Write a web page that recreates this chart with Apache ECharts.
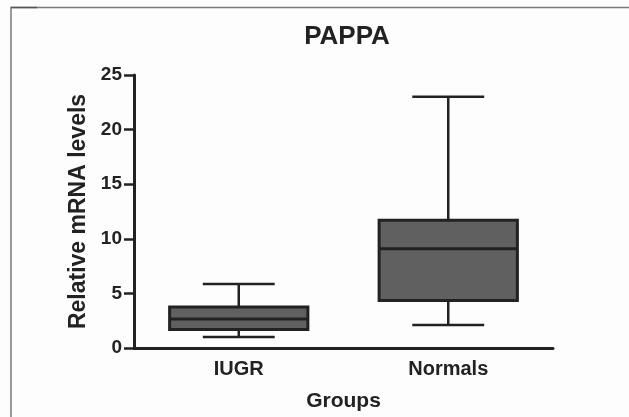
<!DOCTYPE html>
<html>
<head>
<meta charset="utf-8">
<script src="https://cdn.jsdelivr.net/npm/echarts@6/dist/echarts.min.js"></script>
<style>
  html, body { margin: 0; padding: 0; background: #fdfdfd; }
  #chart { width: 629px; height: 417px; }
</style>
</head>
<body>
<div id="chart"></div>
<script>
// Groups and their box-and-whisker summaries (min, Q1, median, Q3, max)
const groups = ['IUGR', 'Normals'];
const whiskerLow = [1.0, 2.1];
const quartile1 = [1.7, 4.35];
const medians = [2.65, 9.1];
const quartile3 = [3.75, 11.7];
const whiskerHigh = [5.85, 23.0];
const yTicks = [0, 5, 10, 15, 20, 25];

const seriesData = groups.map((g, i) => [i, whiskerLow[i], quartile1[i], medians[i], quartile3[i], whiskerHigh[i]]);

const ink = '#222222';
const fontFamily = '"Liberation Sans", Arial, Helvetica, sans-serif';

function renderBox(params, api) {
  const idx = api.value(0);
  const cx = api.coord([idx, 0])[0];
  const band = api.size([1, 0])[0];
  const boxW = band * 0.66;
  const capW = boxW * 0.52;
  const y = v => api.coord([idx, v])[1];
  const yMin = y(api.value(1)), yQ1 = y(api.value(2)), yMed = y(api.value(3)),
        yQ3 = y(api.value(4)), yMax = y(api.value(5));
  const lineStyle = { stroke: ink, lineWidth: 2.5 };
  return {
    type: 'group',
    children: [
      { type: 'line', shape: { x1: cx, y1: yMax, x2: cx, y2: yQ3 }, style: lineStyle },
      { type: 'line', shape: { x1: cx, y1: yQ1, x2: cx, y2: yMin }, style: lineStyle },
      { type: 'line', shape: { x1: cx - capW / 2, y1: yMax, x2: cx + capW / 2, y2: yMax }, style: lineStyle },
      { type: 'line', shape: { x1: cx - capW / 2, y1: yMin, x2: cx + capW / 2, y2: yMin }, style: lineStyle },
      { type: 'rect', shape: { x: cx - boxW / 2, y: yQ3, width: boxW, height: yQ1 - yQ3 },
        style: { fill: '#606060', stroke: ink, lineWidth: 3 } },
      { type: 'line', shape: { x1: cx - boxW / 2, y1: yMed, x2: cx + boxW / 2, y2: yMed },
        style: { stroke: ink, lineWidth: 3 } }
    ]
  };
}

const chart = echarts.init(document.getElementById('chart'), null, { renderer: 'canvas' });
chart.setOption({
  backgroundColor: '#fdfdfd',
  animation: false,
  title: {
    text: 'PAPPA',
    left: 342,
    top: 19,
    textAlign: 'center',
    textStyle: { fontFamily, fontSize: 26, fontWeight: 'bold', color: ink }
  },
  graphic: [
    { type: 'polyline', shape: { points: [[11, 417], [11, 7.5], [629, 7.5]] },
      style: { stroke: '#7a7a7a', lineWidth: 1.5, fill: null } },
    { type: 'line', shape: { x1: 11, y1: 7.5, x2: 37, y2: 7.5 },
      style: { stroke: '#555555', lineWidth: 1.5 } }
  ],
  grid: { left: 134, right: 76, top: 75, bottom: 68, containLabel: false },
  xAxis: {
    type: 'category',
    data: groups,
    boundaryGap: true,
    name: 'Groups',
    nameLocation: 'middle',
    nameGap: 43,
    nameTextStyle: { fontFamily, fontSize: 21, fontWeight: 'bold', color: ink },
    axisLine: { lineStyle: { color: ink, width: 3 } },
    axisTick: { alignWithLabel: true, length: 7, lineStyle: { color: ink, width: 2.5 } },
    axisLabel: { fontFamily, fontSize: 20, fontWeight: 'bold', color: ink, margin: 11 },
    splitLine: { show: false }
  },
  yAxis: {
    type: 'value',
    min: yTicks[0],
    max: yTicks[yTicks.length - 1],
    interval: 5,
    name: 'Relative mRNA levels',
    nameLocation: 'middle',
    nameGap: 42,
    nameTextStyle: { fontFamily, fontSize: 23, fontWeight: 'bold', color: ink },
    axisLine: { show: true, lineStyle: { color: ink, width: 3 } },
    axisTick: { show: true, inside: false, length: 10, lineStyle: { color: ink, width: 2.5 } },
    axisLabel: { fontFamily, fontSize: 19, fontWeight: 'bold', color: ink, margin: 12 },
    splitLine: { show: false }
  },
  series: [{
    type: 'custom',
    renderItem: renderBox,
    encode: { x: 0, y: [1, 2, 3, 4, 5] },
    data: seriesData
  }]
});
</script>
</body>
</html>
